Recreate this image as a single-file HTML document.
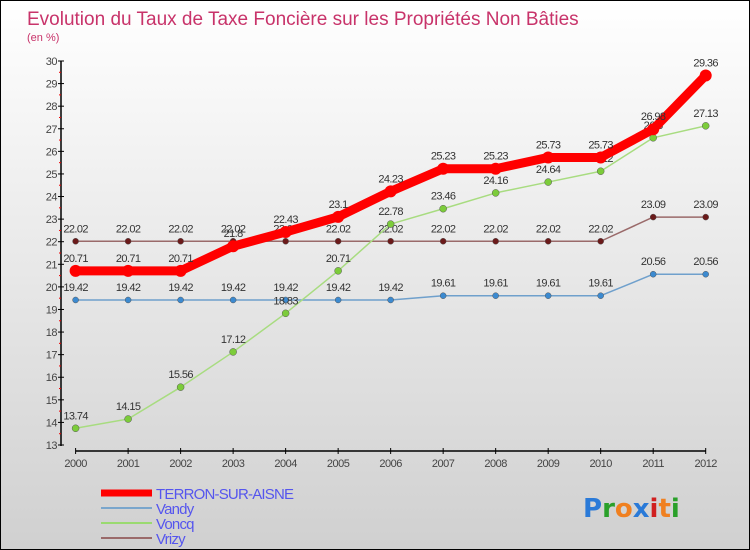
<!DOCTYPE html>
<html><head><meta charset="utf-8"><style>
body{margin:0}
#c{width:748px;height:548px;border:1px solid #000;background:linear-gradient(#fff,#d0d0d0);position:relative;overflow:hidden;font-family:"Liberation Sans",sans-serif}
</style></head><body>
<div id="c">
<svg id="s" width="748" height="548"></svg>
</div>
<script>
const years=["2000","2001","2002","2003","2004","2005","2006","2007","2008","2009","2010","2011","2012"];
const terron=[20.71,20.71,20.71,21.8,22.43,23.1,24.23,25.23,25.23,25.73,25.73,26.98,29.36];
const vandy=[19.42,19.42,19.42,19.42,19.42,19.42,19.42,19.61,19.61,19.61,19.61,20.56,20.56];
const voncq=[13.74,14.15,15.56,17.12,18.83,20.71,22.78,23.46,24.16,24.64,25.12,26.6,27.13];
const vrizy=[22.02,22.02,22.02,22.02,22.02,22.02,22.02,22.02,22.02,22.02,22.02,23.09,23.09];
const yTicks=[13,14,15,16,17,18,19,20,21,22,23,24,25,26,27,28,29,30];
const s=document.getElementById('s');const NS="http://www.w3.org/2000/svg";
function X(i){return 74.6+i*(704.7-74.6)/12;}
function Y(v){return 60+(30-v)*(384/17);}
function el(t,a,txt){const e=document.createElementNS(NS,t);for(const k in a)e.setAttribute(k,a[k]);if(txt!==undefined)e.textContent=txt;s.appendChild(e);return e;}
let t=el('text',{x:26,y:24,fill:'#c8336a','font-size':19},'Evolution du Taux de Taxe Foncière sur les Propriétés Non Bâties');

t=el('text',{x:26,y:40,fill:'#c8336a','font-size':11},'(en %)');

let a=el('line',{x1:60,y1:60,x2:60,y2:445,stroke:'#000','stroke-width':1.5});

yTicks.forEach(v=>{const l=el('line',{x1:57,x2:63,y1:Y(v),y2:Y(v),stroke:'#000'});

if(v<30){const m=el('line',{x1:58,x2:60,y1:Y(v+0.5),y2:Y(v+0.5),stroke:'#e00'});}
const tx=el('text',{x:56,y:Y(v)+4,'text-anchor':'end','font-size':11,fill:'#444','letter-spacing':'-0.5'},v);
});
a=el('line',{x1:X(0),y1:450,x2:X(12),y2:450,stroke:'#000','stroke-width':1.5});

years.forEach((y,i)=>{const l=el('line',{x1:X(i),x2:X(i),y1:447,y2:453,stroke:'#000'});

const tx=el('text',{x:X(i),y:466,'text-anchor':'middle','font-size':11,fill:'#444','letter-spacing':'-0.5'},y);
});
function series(name,d,color,w,r,dot){
const p=el('polyline',{points:d.map((v,i)=>X(i)+','+Y(v)).join(' '),fill:'none',stroke:color,'stroke-width':w,'stroke-linejoin':'round'});

d.forEach((v,i)=>{const c=el('circle',{cx:X(i),cy:Y(v),r:r,fill:dot,stroke:w>4?'none':'#555','stroke-width':0.5});

const tx=el('text',{x:X(i),y:Y(v)-9,'text-anchor':'middle','font-size':11,fill:'#333','letter-spacing':'-0.6'},String(v).replace(/^(\d+\.\d)$/,'$1'));
});}
series('vrizy',vrizy,'#9a6a6a',1.5,3,'#6b1a1a');
series('vandy',vandy,'#6fa0cc',1.5,3,'#3c8ad0');
series('voncq',voncq,'#a8dc80',1.5,3.5,'#7ccc3a');
series('terron',terron,'#f00',9,6,'#f00');
const leg=[['TERRON-SUR-AISNE','#f00',7],['Vandy','#7aa6cc',2],['Voncq','#9ada70',2],['Vrizy','#9a6a6a',2]];
leg.forEach((g,i)=>{const y=492+i*15;
const l=el('line',{x1:100,x2:151,y1:y,y2:y,stroke:g[1],'stroke-width':g[2]});

const tx=el('text',{x:155,y:y+6,'font-size':15,fill:'#5555ee','letter-spacing':'-0.8'},g[0]);
});
const logo=el('text',{x:582,y:516,'font-size':26,'font-weight':'bold','font-family':'DejaVu Sans, sans-serif'});

[['P','#2a7ad8'],['r','#2aa02a'],['o','#f08020'],['x','#2a7ad8'],['i','#d02020'],['t','#f08020'],['i','#2aa02a']].forEach(c=>{const sp=document.createElementNS(NS,'tspan');sp.setAttribute('fill',c[1]);sp.textContent=c[0];logo.appendChild(sp);});
</script>
</body></html>
